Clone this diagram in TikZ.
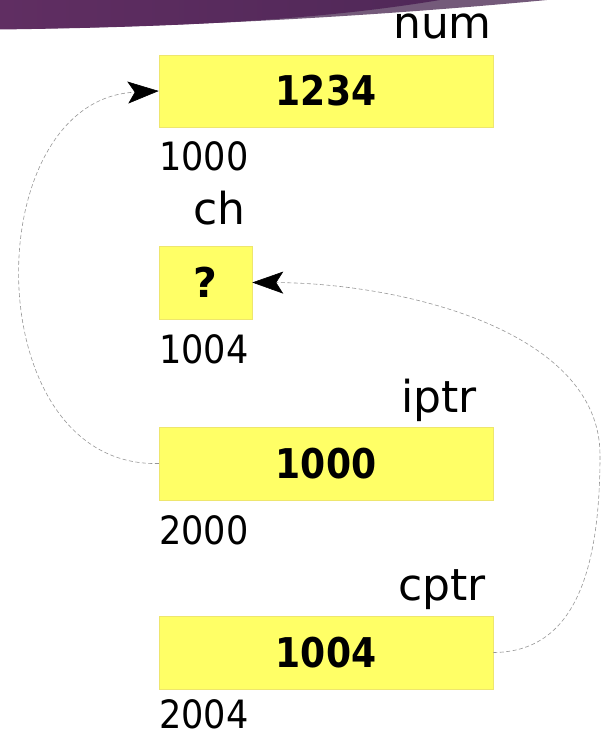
\documentclass[tikz,border=0pt]{standalone}
\usepackage{fontspec}
\usepackage{graphicx}
\setmainfont{DejaVu Sans}
\usetikzlibrary{arrows.meta}
\definecolor{cellyellow}{RGB}{255,255,102}
\definecolor{cellborder}{RGB}{238,230,110}
\definecolor{swooshleft}{RGB}{96,46,98}
\definecolor{swooshright}{RGB}{80,40,88}
\definecolor{swooshlight}{RGB}{116,90,122}
\definecolor{ptrgray}{RGB}{150,150,150}
\tikzset{
  memcell/.style={rectangle, fill=cellyellow, draw=cellborder, line width=0.5pt,
    inner sep=0pt, font=\fontsize{41}{41}\selectfont\bfseries},
  varname/.style={inner sep=0pt, anchor=base east, font=\fontsize{44}{44}\selectfont},
  addr/.style={inner sep=0pt, anchor=base west, font=\fontsize{39}{39}\selectfont},
  ptr/.style={draw=ptrgray, line width=0.6pt, dash pattern=on 4pt off 2.5pt,
    -{Stealth[length=31pt,width=22pt,inset=7pt,color=black]}}
}
\newcommand\cellval[1]{\scalebox{0.88}[1]{#1}}
\newcommand\addrval[1]{\scalebox{0.9}[1]{#1}}
\begin{document}
\begin{tikzpicture}[x=1pt,y=-1pt]
\useasboundingbox (0,0) rectangle (601,735);
% title swoosh
\fill[swooshlight] (0,0) -- (0,29) .. controls (200,27) and (400,14) .. (547,0) -- cycle;
\shade[left color=swooshleft, right color=swooshright] (0,0) -- (0,29.5) .. controls (180,27) and (320,20) .. (440,0) -- cycle;
% memory cells
\node[memcell, minimum width=334pt, minimum height=72pt] (num) at (326,91) {\cellval{1234}};
\node[memcell, minimum width=93pt, minimum height=73pt] (ch) at (205.5,282.5) {?};
\node[memcell, minimum width=334pt, minimum height=73pt] (iptr) at (326,463.5) {\cellval{1000}};
\node[memcell, minimum width=334pt, minimum height=73pt] (cptr) at (326,652.5) {\cellval{1004}};
% variable names
\node[varname] (numname) at (492,39) {num};
\node[varname] (chname) at (246,225) {ch};
\node[varname] (iptrname) at (477,412) {iptr};
\node[varname] (cptrname) at (486,600) {cptr};
% addresses
\node[addr] (numaddr) at (159,171) {\addrval{1000}};
\node[addr] (chaddr) at (159,363) {\addrval{1004}};
\node[addr] (iptraddr) at (159,544) {\addrval{2000}};
\node[addr] (cptraddr) at (159,728.5) {\addrval{2004}};
% pointers
\coordinate (rturn) at (600,455);
\draw[ptr] (iptr.west) .. controls (-24,468) and (-24,100) .. (num.west);
\draw[ptr] (cptr.east) .. controls (575,652) and (600,570) .. (rturn)
  .. controls (600,330) and (400,283) .. (ch.east);
\end{tikzpicture}
\end{document}
